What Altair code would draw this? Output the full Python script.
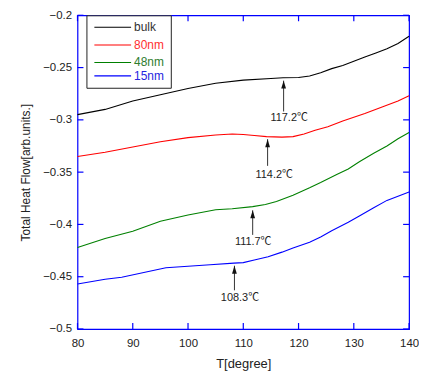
import altair as alt
import pandas as pd

series = ["bulk", "80nm", "48nm", "15nm"]
colors = ["#000000", "#ff0000", "#008000", "#0000ff"]
label_colors = ["#333333", "#ff3030", "#2e7d2e", "#2525e0"]

bulk_T = [80, 85, 90, 95, 100, 105, 110, 115, 117.2, 120, 122, 124, 126, 128, 130, 132, 134, 136, 138, 140]
bulk_v = [-0.295, -0.290, -0.282, -0.276, -0.270, -0.265, -0.262, -0.2605, -0.2598, -0.2595, -0.258, -0.255,
          -0.251, -0.248, -0.244, -0.240, -0.236, -0.232, -0.227, -0.220]

nm80_T = [80, 85, 90, 95, 100, 105, 108, 110, 112, 114.2, 117, 119, 121, 123, 125.3, 128, 130, 132, 135, 138, 140]
nm80_v = [-0.335, -0.331, -0.326, -0.321, -0.317, -0.3145, -0.3135, -0.314, -0.315, -0.316, -0.3165, -0.316,
          -0.3135, -0.310, -0.3065, -0.301, -0.2975, -0.294, -0.288, -0.282, -0.277]

nm48_T = [80, 85, 90, 95, 100, 105, 108, 111.7, 114, 116, 119, 122, 124, 127, 129, 131, 133.6, 136, 138, 140]
nm48_v = [-0.422, -0.4135, -0.4065, -0.397, -0.391, -0.386, -0.385, -0.383, -0.381, -0.378, -0.372, -0.365,
          -0.360, -0.352, -0.347, -0.340, -0.332, -0.325, -0.318, -0.312]

nm15_T = [80, 85, 88, 92, 96, 100, 104, 108.3, 110, 112, 114.5, 117, 119, 122, 124, 126, 129, 131, 133.6, 136, 138, 140]
nm15_v = [-0.457, -0.4525, -0.4505, -0.446, -0.4415, -0.440, -0.4385, -0.437, -0.4365, -0.434, -0.431, -0.4265,
          -0.4225, -0.417, -0.412, -0.406, -0.398, -0.392, -0.384, -0.377, -0.373, -0.369]

ann_T = [117.3, 114.4, 111.7, 108.4]
ann_tip = [-0.2625, -0.3185, -0.3865, -0.4395]
ann_tail = [-0.292, -0.344, -0.410, -0.463]
ann_label_T = [118.3, 115.6, 111.8, 109.4]
ann_label_v = [-0.2985, -0.353, -0.4165, -0.4705]
ann_labels = ["117.2℃", "114.2℃", "111.7℃", "108.3℃"]

x_ticks = [80, 90, 100, 110, 120, 130, 140]
y_ticks = [-0.5, -0.45, -0.4, -0.35, -0.3, -0.25, -0.2]

W, H = 334, 316
FONT = "Liberation Sans, Noto Sans CJK JP"

frames = []
for name, T, v in [("bulk", bulk_T, bulk_v), ("80nm", nm80_T, nm80_v),
                   ("48nm", nm48_T, nm48_v), ("15nm", nm15_T, nm15_v)]:
    frames.append(pd.DataFrame({"T": T, "v": v, "series": name}))
df = pd.concat(frames, ignore_index=True)
df["order"] = df["series"].map({s: i for i, s in enumerate(series)})

xscale = alt.Scale(domain=[80, 140], nice=False, zero=False)
yscale = alt.Scale(domain=[-0.5, -0.2], nice=False, zero=False)

lines = alt.Chart(df).mark_line(strokeWidth=1.1).encode(
    x=alt.X("T:Q", scale=xscale,
            axis=alt.Axis(values=x_ticks, format="d", grid=False, ticks=False, domain=False,
                          labelFlush=False, labelFontSize=11.5, labelPadding=9, labelFont=FONT,
                          labelColor="#222", title="T[degree]", titleFontSize=13,
                          titleFontWeight="normal", titleFont=FONT, titlePadding=8,
                          titleColor="#222")),
    y=alt.Y("v:Q", scale=yscale,
            axis=alt.Axis(values=y_ticks, format=".2~f", grid=False, ticks=False, domain=False,
                          labelFlush=False, labelFontSize=11.5, labelPadding=6, labelFont=FONT,
                          labelColor="#222", title="Total Heat Flow[arb.units.]", titleFontSize=12,
                          titleFontWeight="normal", titleFont=FONT, titlePadding=10,
                          titleColor="#222")),
    color=alt.Color("series:N", scale=alt.Scale(domain=series, range=colors), legend=None),
    detail="series:N",
    order="order:Q",
)

xt = pd.DataFrame({"t": x_ticks})
yt = pd.DataFrame({"t": y_ticks})
tick_style = dict(color="#0000ff", strokeWidth=1.2)
xb = alt.Chart(xt).mark_rule(**tick_style).encode(x=alt.X("t:Q", scale=xscale), y=alt.value(H), y2=alt.value(H - 6))
xtop = alt.Chart(xt).mark_rule(**tick_style).encode(x=alt.X("t:Q", scale=xscale), y=alt.value(0), y2=alt.value(6))
yl = alt.Chart(yt).mark_rule(**tick_style).encode(y=alt.Y("t:Q", scale=yscale), x=alt.value(0), x2=alt.value(6))
yr = alt.Chart(yt).mark_rule(**tick_style).encode(y=alt.Y("t:Q", scale=yscale), x=alt.value(W), x2=alt.value(W - 6))

ann = pd.DataFrame({"T": ann_T, "tip": ann_tip, "tail": ann_tail,
                    "lt": ann_label_T, "lv": ann_label_v, "label": ann_labels})
shafts = alt.Chart(ann).mark_rule(color="#333", strokeWidth=1).encode(
    x=alt.X("T:Q", scale=xscale), y=alt.Y("tail:Q", scale=yscale), y2="tip:Q")
heads = alt.Chart(ann).mark_point(shape="M0,0L-0.6,2L0.6,2Z", filled=True, color="#111", size=64, opacity=1).encode(
    x=alt.X("T:Q", scale=xscale), y=alt.Y("tip:Q", scale=yscale))
texts = alt.Chart(ann).mark_text(font=FONT, fontSize=11, color="#222", align="center", baseline="middle").encode(
    x=alt.X("lt:Q", scale=xscale), y=alt.Y("lv:Q", scale=yscale), text="label:N")

# legend box (manual)
one = pd.DataFrame({"a": [0]})
legend_layers = [
    alt.Chart(one).mark_rect(fill="white", stroke="#222", strokeWidth=1).encode(
        x=alt.value(9.5), x2=alt.value(94.5), y=alt.value(0.5), y2=alt.value(73.5))
]
row_y = [12, 30, 47.5, 61]
for s, c, lc, ry in zip(series, colors, label_colors, row_y):
    d = pd.DataFrame({"series": [s]})
    legend_layers.append(alt.Chart(d).mark_rule(color=c, strokeWidth=1.1).encode(
        x=alt.value(17), x2=alt.value(54), y=alt.value(ry)))
    legend_layers.append(alt.Chart(d).mark_text(align="left", baseline="middle", font=FONT,
                                                fontSize=12, color=lc).encode(
        x=alt.value(57), y=alt.value(ry), text="series:N"))

chart = alt.layer(lines, xb, xtop, yl, yr, shafts, heads, texts, *legend_layers).properties(
    width=W, height=H,
    autosize=alt.AutoSizeParams(type="none"),
    padding={"left": 70, "top": 6, "right": 10, "bottom": 45},
    background="white",
).configure_view(stroke="#0000ff", strokeWidth=1.2)

chart.save("out.html", embed_options={"renderer": "svg", "actions": False})
